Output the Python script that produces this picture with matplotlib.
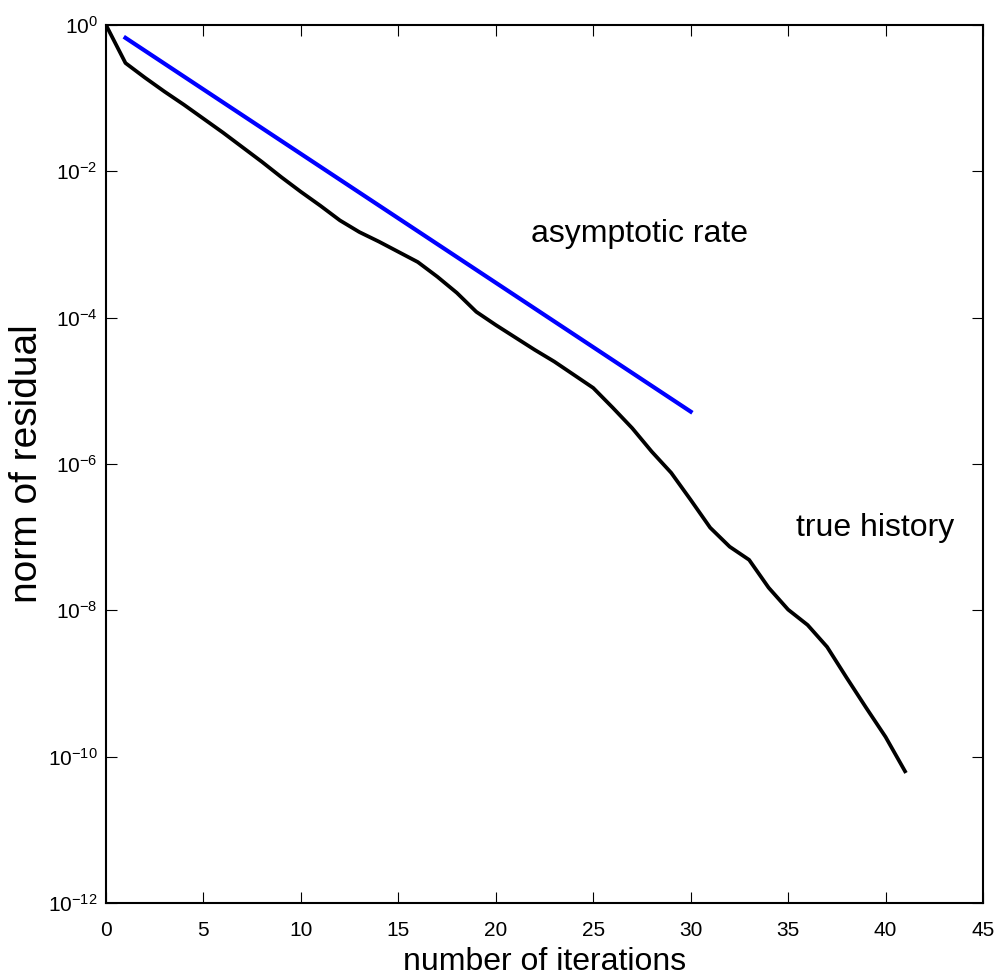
import matplotlib
matplotlib.use("Agg")
import matplotlib.pyplot as plt
import numpy as np

plt.rcParams['font.family'] = ['Liberation Sans', 'DejaVu Sans']
plt.rcParams['mathtext.fontset'] = 'custom'
plt.rcParams['mathtext.rm'] = 'Liberation Sans'
plt.rcParams['mathtext.it'] = 'Liberation Sans:italic'

# residual norm per iteration (log10 values)
iterations = list(range(0, 42))
log_residual = [0.0, -0.52, -0.72, -0.91, -1.09, -1.28, -1.47, -1.67, -1.87,
                -2.08, -2.28, -2.47, -2.67, -2.83, -2.96, -3.10, -3.24, -3.44,
                -3.66, -3.92, -4.10, -4.27, -4.44, -4.60, -4.78, -4.96, -5.23,
                -5.51, -5.83, -6.12, -6.49, -6.87, -7.13, -7.31, -7.69, -7.99,
                -8.20, -8.50, -8.92, -9.33, -9.73, -10.20]
residual = 10.0 ** np.array(log_residual)

# asymptotic rate line, endpoints
rate_x = [1, 30]
rate_y = [0.667, 5.2e-6]

fig = plt.figure(figsize=(9.99, 9.80), dpi=100)
ax = fig.add_axes([106 / 999, 1 - 903 / 980, 877 / 999, 878 / 980])

ax.semilogy(iterations, residual, color='black', linewidth=2.7, solid_joinstyle='round')
ax.semilogy(rate_x, rate_y, color=(0, 0, 1), linewidth=3.0)

ax.set_xlim(0, 45)
ax.set_ylim(1e-12, 1e0)
ax.set_xticks(range(0, 46, 5))
ax.set_yticks([10.0 ** k for k in range(-12, 1, 2)])
ax.yaxis.set_minor_locator(matplotlib.ticker.NullLocator())

ax.tick_params(direction='in', length=8, width=0.8, top=True, right=True,
               labelsize=15)
ax.tick_params(axis='x', pad=13)
ax.tick_params(axis='y', pad=6)
for s in ax.spines.values():
    s.set_linewidth(1.5)

ax.set_xlabel('number of iterations', fontsize=23, labelpad=5)
ax.set_ylabel('norm of residual', fontsize=28, labelpad=2)

ax.text(27.35, 10 ** -2.85, 'asymptotic rate', fontsize=23, ha='center', va='center')
ax.text(39.45, 10 ** -6.87, 'true history', fontsize=23, ha='center', va='center')

fig.savefig('out.png', dpi=100)
